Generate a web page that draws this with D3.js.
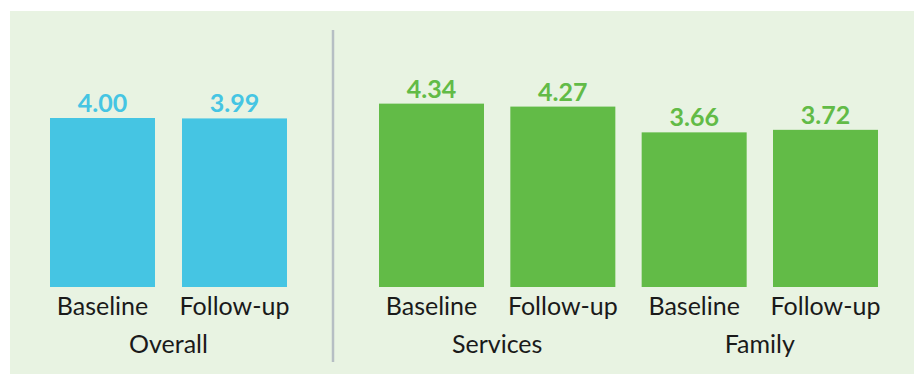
<!DOCTYPE html>
<html>
<head>
<meta charset="utf-8">
<script src="https://cdn.jsdelivr.net/npm/d3@7"></script>
<style>
  html, body { margin: 0; padding: 0; background: #ffffff; }
  svg { display: block; }
</style>
</head>
<body>
<svg id="chart" width="918" height="374"></svg>
<script>
// Mean scores at baseline and follow-up
const groups = ["Overall", "Services", "Family"];
const phases = ["Baseline", "Follow-up"];
const overallValues = [4.00, 3.99];
const servicesValues = [4.34, 4.27];
const familyValues = [3.66, 3.72];

const groupValues = [overallValues, servicesValues, familyValues];

const colorBlue = "#45c5e3";
const colorGreen = "#62bb47";
const groupColors = [colorBlue, colorGreen, colorGreen];

const svg = d3.select("#chart");
const W = 918, H = 374;

// panel background
svg.append("rect")
  .attr("x", 10).attr("y", 11)
  .attr("width", 904).attr("height", H - 11)
  .attr("fill", "#e8f3e2");

// shared value scale
const baseY = 287;
const y = d3.scaleLinear().domain([0, 4]).range([baseY, 118]);

// two panels: Overall on the left, Services + Family on the right
const leftKeys = phases.map(p => "Overall|" + p);
const rightKeys = [];
["Services", "Family"].forEach(g => phases.forEach(p => rightKeys.push(g + "|" + p)));

const xLeft = d3.scaleBand().domain(leftKeys).range([50, 287]).paddingInner(0.2045).paddingOuter(0);
const xRight = d3.scaleBand().domain(rightKeys).range([379, 878]).paddingInner(0.2005).paddingOuter(0);

const fontFamily = "Lato, 'Noto Sans', sans-serif";

const bars = [];
groups.forEach((g, gi) => {
  phases.forEach((p, pi) => {
    const key = g + "|" + p;
    const xs = gi === 0 ? xLeft : xRight;
    bars.push({ group: g, phase: p, value: groupValues[gi][pi], x: xs(key), w: xs.bandwidth(), color: groupColors[gi] });
  });
});

svg.append("g").selectAll("rect")
  .data(bars).join("rect")
  .attr("x", d => d.x)
  .attr("y", d => y(d.value))
  .attr("width", d => d.w)
  .attr("height", d => baseY - y(d.value))
  .attr("fill", d => d.color);

// value labels above bars
svg.append("g").selectAll("text")
  .data(bars).join("text")
  .attr("x", d => d.x + d.w / 2)
  .attr("y", d => y(d.value) - 6)
  .attr("text-anchor", "middle")
  .attr("font-family", fontFamily)
  .attr("font-weight", 700)
  .attr("font-size", 25)
  .attr("fill", d => d.color)
  .text(d => d.value.toFixed(2));

// phase labels
svg.append("g").selectAll("text")
  .data(bars).join("text")
  .attr("x", d => d.x + d.w / 2)
  .attr("y", 315)
  .attr("text-anchor", "middle")
  .attr("font-family", fontFamily)
  .attr("font-size", 25)
  .attr("fill", "#1a1a1a")
  .text(d => d.phase);

// group labels
const groupCenters = groups.map(g => {
  const gb = bars.filter(b => b.group === g);
  return { name: g, cx: (gb[0].x + gb[gb.length - 1].x + gb[gb.length - 1].w) / 2 };
});
svg.append("g").selectAll("text")
  .data(groupCenters).join("text")
  .attr("x", d => d.cx)
  .attr("y", 353)
  .attr("text-anchor", "middle")
  .attr("font-family", fontFamily)
  .attr("font-size", 25)
  .attr("fill", "#1a1a1a")
  .text(d => d.name);

// divider between panels
svg.append("line")
  .attr("x1", 333).attr("x2", 333)
  .attr("y1", 30).attr("y2", 362)
  .attr("stroke", "#b6bec4")
  .attr("stroke-width", 2.5);
</script>
</body>
</html>
